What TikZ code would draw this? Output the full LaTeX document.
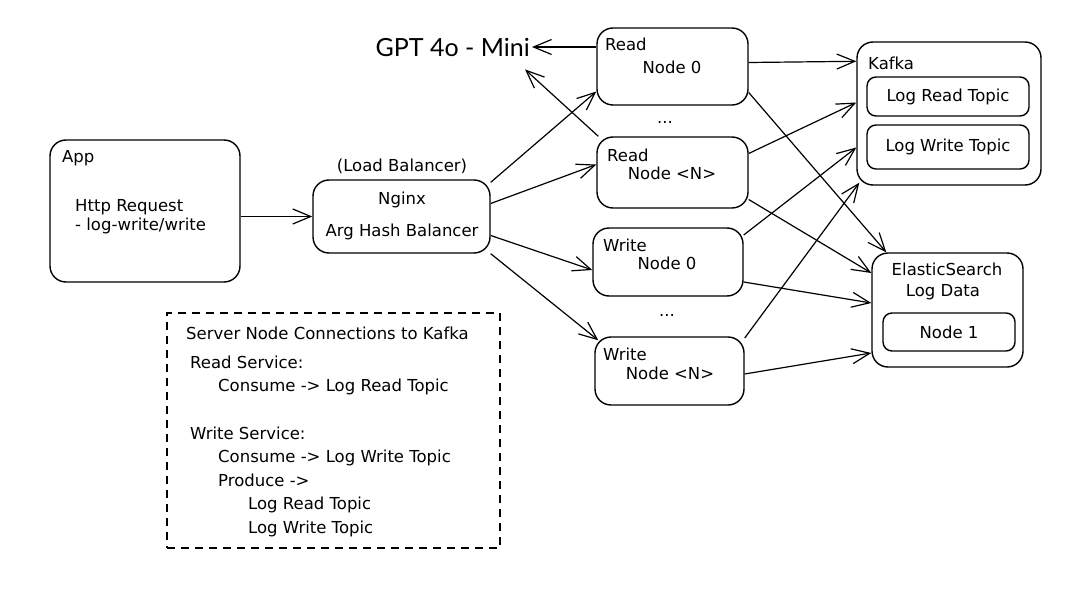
\documentclass[tikz,border=0pt]{standalone}
\usepackage{fontspec}
\setmainfont{DejaVu Sans}
\newfontfamily\gptfont{Lato}
\usetikzlibrary{calc,arrows.meta}
\tikzstyle{roundbox}=[rectangle,draw=black,line width=1.4pt,rounded corners=16pt,
                      inner sep=0pt]
\tikzstyle{topicbox}=[rectangle,draw=black,line width=1.4pt,rounded corners=9pt,
                      inner sep=0pt,font=\fontsize{16.5}{19}\selectfont]
\tikzstyle{dashbox}=[rectangle,draw=black,line width=1.5pt,dash pattern=on 8pt off 6pt]
\tikzstyle{boxtext}=[font=\fontsize{16.5}{19}\selectfont,inner sep=0pt]
\tikzstyle{conn}=[-{Straight Barb[length=18pt,width=15pt]},line width=1.2pt]
\newcommand\legendlines{%
  Server Node Connections to Kafka\\[5pt]
  \hspace*{4pt}Read Service:\\
  \hspace*{32pt}Consume -> Log Read Topic\\[23.6pt]
  \hspace*{4pt}Write Service:\\
  \hspace*{32pt}Consume -> Log Write Topic\\
  \hspace*{32pt}Produce ->\\
  \hspace*{62pt}Log Read Topic\\
  \hspace*{62pt}Log Write Topic}

\begin{document}
\begin{tikzpicture}[x=1pt,y=-1pt]
    \useasboundingbox (0,0) rectangle (1086,591);

    \node [roundbox,minimum width=190pt,minimum height=142pt] (app) at (145,211) {};
    \node [boxtext,anchor=west] (app title) at (62,158) {App};
    \node [boxtext,anchor=west,align=left] (app request) at (75,217) {Http Request\\- log-write/write};

    \node [roundbox,minimum width=177pt,minimum height=73pt] (nginx) at (401.5,216.5) {};
    \node [boxtext] (lb label) at (402,166) {(Load Balancer)};
    \node [boxtext] (nginx title) at (402,200) {Nginx};
    \node [boxtext] (nginx hash) at (402,232) {Arg Hash Balancer};

    \node [font=\gptfont\fontsize{25}{29}\selectfont,anchor=east,inner sep=0pt] (gpt) at (530,47) {GPT 4o - Mini};

    \node [roundbox,minimum width=151pt,minimum height=77pt] (read0) at (672.5,66.5) {};
    \node [boxtext,anchor=west] (read0 title) at (605,44) {Read};
    \node [boxtext] (read0 name) at (672,67) {Node 0};
    \node [boxtext] (dots read) at (665,122) {...};
    \node [roundbox,minimum width=151pt,minimum height=71pt] (readN) at (672.5,172.5) {};
    \node [boxtext,anchor=west] (readN title) at (607,155) {Read};
    \node [boxtext] (readN name) at (672,173) {Node <N>};

    \node [roundbox,minimum width=150pt,minimum height=68pt] (write0) at (668,262) {};
    \node [boxtext,anchor=west] (write0 title) at (603,245) {Write};
    \node [boxtext] (write0 name) at (667,263) {Node 0};
    \node [boxtext] (dots write) at (667,315) {...};
    \node [roundbox,minimum width=149pt,minimum height=68pt] (writeN) at (669.5,371) {};
    \node [boxtext,anchor=west] (writeN title) at (603,354) {Write};
    \node [boxtext] (writeN name) at (670,373) {Node <N>};

    \node [roundbox,minimum width=184pt,minimum height=143pt] (kafka) at (949,113.5) {};
    \node [boxtext,anchor=west] (kafka title) at (868,63) {Kafka};
    \node [topicbox,minimum width=162pt,minimum height=39pt] (read topic) at (948,96.5) {Log Read Topic};
    \node [topicbox,minimum width=162pt,minimum height=44pt] (write topic) at (948,147) {Log Write Topic};

    \node [roundbox,minimum width=151pt,minimum height=114pt] (es) at (947.5,310) {};
    \node [boxtext] (es title) at (947,269) {ElasticSearch};
    \node [boxtext] (es data) at (943,292) {Log Data};
    \node [topicbox,minimum width=132pt,minimum height=38pt] (es node) at (949,332) {Node 1};

    \node [dashbox,minimum width=333pt,minimum height=235pt] (legend) at (333.5,430.5) {};
    \node [boxtext,anchor=north west,align=left,font=\fontsize{16.5}{23.6}\selectfont] (legend text) at (186,327) {\legendlines};

    \draw [conn] (app.east |- nginx.west) -- (nginx.west);
    \draw [conn] ([yshift=-3pt]nginx.north east) -- ([yshift=-25pt]read0.west);
    \draw [conn] ([yshift=13pt]nginx.east) -- ([yshift=8pt]readN.west);
    \draw [conn] ([yshift=-19pt]nginx.east) -- ([yshift=-8pt]write0.west);
    \draw [conn] (nginx.south east) -- ([xshift=4pt,yshift=-4pt]writeN.north west);

    \draw [conn] ([yshift=19.5pt]read0.west) -- ([xshift=2pt]gpt.east);
    \draw [conn] ([xshift=2pt]readN.north west) -- ([shift={(-5pt,-13pt)}]gpt.south east);

    \draw [conn] ([yshift=4pt]read0.east) -- ([yshift=-20pt]kafka.north west);
    \draw [conn] ([yshift=-26pt]read0.east) -- ([xshift=15pt]es.north west);
    \draw [conn] ([yshift=19pt]readN.east) -- ([yshift=11pt]kafka.west);
    \draw [conn] ([yshift=-27pt]readN.east) -- ([yshift=37pt]es.west);
    \draw [conn] ([yshift=27pt]write0.east) -- ([yshift=-34pt]kafka.west);
    \draw [conn] ([yshift=-20pt]write0.east) -- ([yshift=7pt]es.west);
    \draw [conn] ([yshift=33pt]writeN.east) -- ([xshift=3pt,yshift=3pt]kafka.south west);
    \draw [conn] ([yshift=-3pt]writeN.east) -- ([yshift=-43pt]es.west);
\end{tikzpicture}
\end{document}
